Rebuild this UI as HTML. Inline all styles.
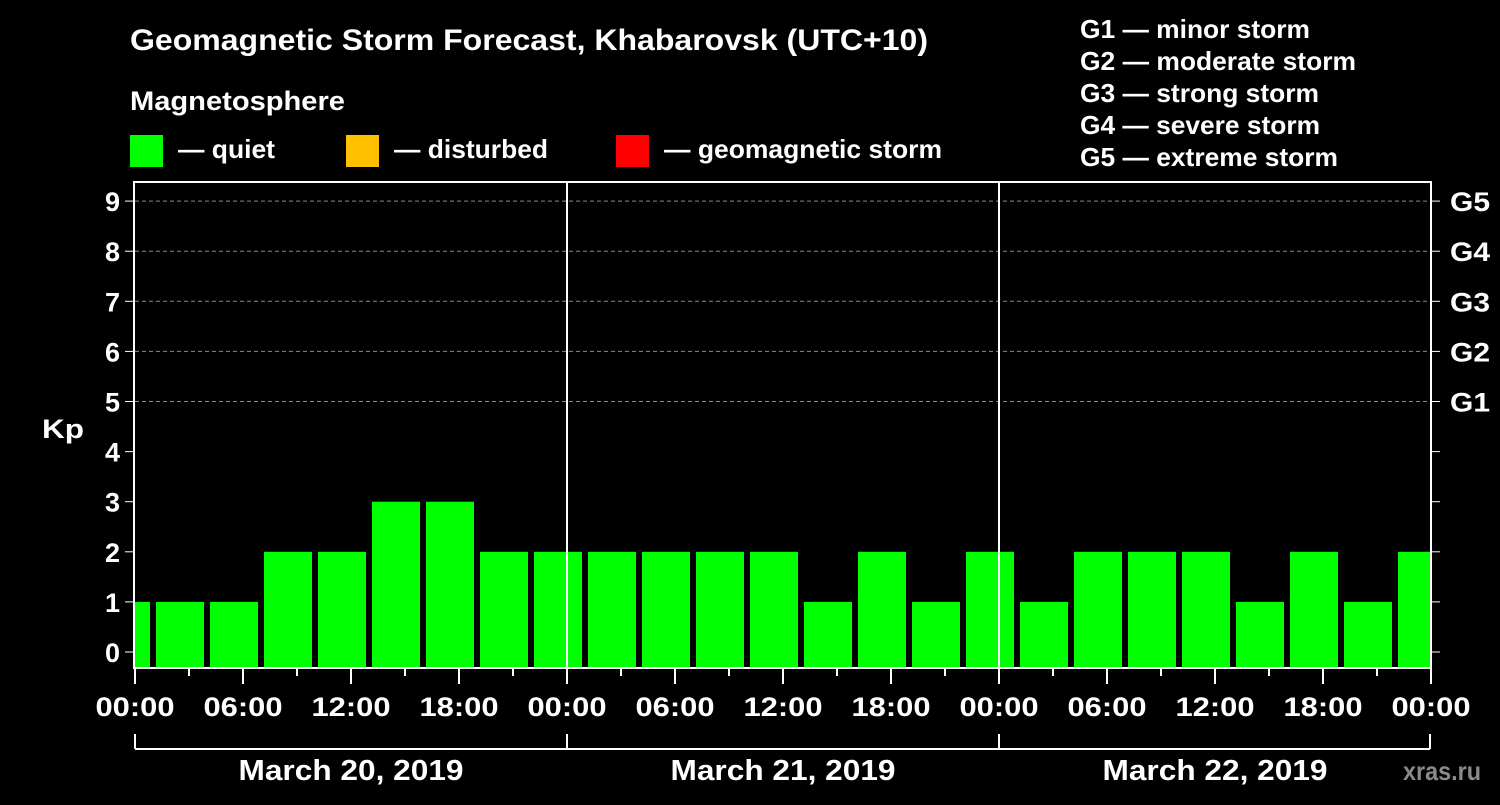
<!DOCTYPE html>
<html><head><meta charset="utf-8"><style>
html,body{margin:0;padding:0;background:#000;}
svg text{font-family:"Liberation Sans",Arial,sans-serif;font-weight:bold;fill:#fff;}
</style></head><body>
<svg id="c" width="1500" height="800" xmlns="http://www.w3.org/2000/svg">
<rect width="1500" height="800" fill="#000"/>
<text x="130" y="50" font-size="30" textLength="798" lengthAdjust="spacingAndGlyphs">Geomagnetic Storm Forecast, Khabarovsk (UTC+10)</text>
<text x="130" y="110" font-size="27" textLength="215" lengthAdjust="spacingAndGlyphs">Magnetosphere</text>
<g><rect x="130" y="135" width="33" height="32" fill="#00ff00"/><text x="178" y="158" font-size="26" textLength="97" lengthAdjust="spacingAndGlyphs">— quiet</text></g>
<g><rect x="346" y="135" width="33" height="32" fill="#ffc000"/><text x="394" y="158" font-size="26" textLength="154" lengthAdjust="spacingAndGlyphs">— disturbed</text></g>
<g><rect x="616" y="135" width="33" height="32" fill="#ff0000"/><text x="664" y="158" font-size="26" textLength="278" lengthAdjust="spacingAndGlyphs">— geomagnetic storm</text></g>
<g font-size="26">
<text x="1080" y="38" textLength="230" lengthAdjust="spacingAndGlyphs">G1 — minor storm</text>
<text x="1080" y="70" textLength="276" lengthAdjust="spacingAndGlyphs">G2 — moderate storm</text>
<text x="1080" y="102" textLength="239" lengthAdjust="spacingAndGlyphs">G3 — strong storm</text>
<text x="1080" y="134" textLength="240" lengthAdjust="spacingAndGlyphs">G4 — severe storm</text>
<text x="1080" y="166" textLength="258" lengthAdjust="spacingAndGlyphs">G5 — extreme storm</text>
</g>
<text x="42" y="438" font-size="27" textLength="42" lengthAdjust="spacingAndGlyphs">Kp</text>
<text x="1403" y="780" font-size="26" textLength="78" lengthAdjust="spacingAndGlyphs" style="fill:#8a8a8a">xras.ru</text>
<g id="plot"></g>
</svg>
<script>
const kpValues=[1,1,1,2,2,3,3,2,2,2,2,2,2,1,2,1,2,1,2,2,2,1,2,1,2];
const barStartHours=kpValues.map((v,i)=>-2+3*i);
const yTicks=[0,1,2,3,4,5,6,7,8,9];
const gLabels=["G1","G2","G3","G4","G5"];
const gLevels=[5,6,7,8,9];
const xTickLabels=["00:00","06:00","12:00","18:00"];
const dayLabels=["March 20, 2019","March 21, 2019","March 22, 2019"];
const X0=135,X1=1431,TOP=182,BOT=668;
const xs=h=>X0+h*18;
const ys=v=>652-v*50.1;
const NS="http://www.w3.org/2000/svg";
const g=document.getElementById('plot');
function mk(t,a,txt){const e=document.createElementNS(NS,t);for(const k in a)e.setAttribute(k,a[k]);if(txt!==undefined)e.textContent=txt;g.appendChild(e);return e;}
gLevels.forEach((v,i)=>{
 const l=mk('line',{x1:X0,x2:X1,y1:ys(v),y2:ys(v),stroke:'#888','stroke-dasharray':'4,3','stroke-width':1});
 
 
 const t=mk('text',{x:1450,y:ys(v)+10,'font-size':27,textLength:40,lengthAdjust:'spacingAndGlyphs'},gLabels[i]);
 
 
});
kpValues.forEach((v,i)=>{
 let s=Math.max(0,barStartHours[i]),e=Math.min(72,barStartHours[i]+3);
 let x1=xs(s)+(barStartHours[i]<0?0:3),x2=xs(e)-(barStartHours[i]+3>72?1:3);
 const r=mk('rect',{x:x1,y:ys(v),width:x2-x1,height:BOT-ys(v),fill:v>=5?'#ff0000':(v>=4?'#ffc000':'#00ff00')});
 
 
});
[1,2].forEach(d=>{const l=mk('line',{x1:xs(24*d),x2:xs(24*d),y1:TOP,y2:BOT,stroke:'#fff','stroke-width':2});
 
 });
const f=mk('rect',{x:X0-1,y:TOP,width:X1-X0+1,height:BOT-TOP,fill:'none',stroke:'#fff','stroke-width':2});


yTicks.forEach(v=>{
 mk('line',{x1:X0-10,x2:X0,y1:ys(v),y2:ys(v),stroke:'#fff','stroke-width':1});
 mk('line',{x1:X1,x2:X1+9,y1:ys(v),y2:ys(v),stroke:'#fff','stroke-width':1});
 const t=mk('text',{x:X0-15,y:ys(v)+10,'font-size':27,'text-anchor':'end'},String(v));
 
 
});
for(let h=0;h<=72;h+=3){
 mk('line',{x1:xs(h),x2:xs(h),y1:BOT,y2:BOT+(h%6===0?16:8),stroke:'#fff','stroke-width':2});
}
for(let h=0;h<=72;h+=6){
 const t=mk('text',{x:xs(h),y:716,'font-size':27,'text-anchor':'middle',textLength:79,lengthAdjust:'spacingAndGlyphs'},xTickLabels[(h/6)%4]);
 
 
}
mk('line',{x1:X0,x2:X1-1,y1:749,y2:749,stroke:'#fff','stroke-width':2});
[0,24,48,72].forEach(h=>mk('line',{x1:xs(h)-(h==72?1:0),x2:xs(h)-(h==72?1:0),y1:734,y2:749,stroke:'#fff','stroke-width':2}));
dayLabels.forEach((d,i)=>{const t=mk('text',{x:xs(24*i+12),y:780,'font-size':29,'text-anchor':'middle',textLength:225,lengthAdjust:'spacingAndGlyphs'},d);
 
 });
</script>
</body></html>
